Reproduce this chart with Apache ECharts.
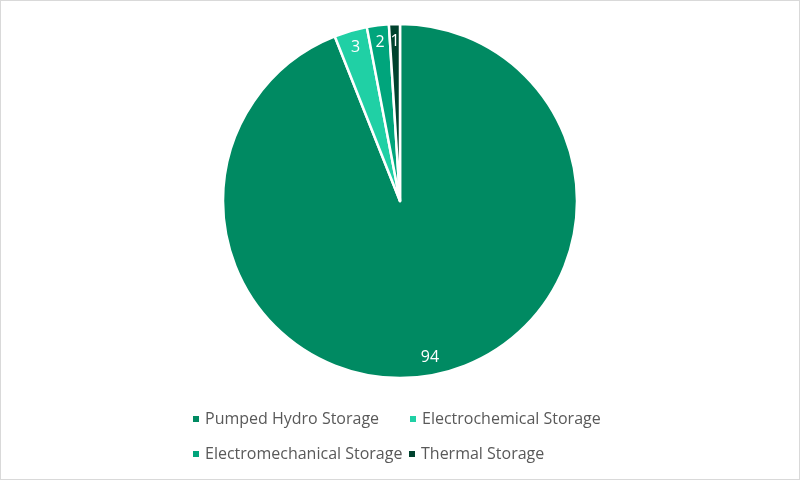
<!DOCTYPE html>
<html>
<head>
<meta charset="utf-8">
<script src="https://cdn.jsdelivr.net/npm/echarts@6/dist/echarts.min.js"></script>
<style>
html,body{margin:0;padding:0;background:#fff;}
#c{width:798px;height:478px;border:1px solid #d9d9d9;}
</style>
</head>
<body>
<div id="c"></div>
<script>
var categories = ['Pumped Hydro Storage', 'Electrochemical Storage', 'Electromechanical Storage', 'Thermal Storage'];
var shares = [94, 3, 2, 1];
var colors = ['#008a62', '#20d0a5', '#00a57c', '#00422e'];

var data = categories.map(function (n, i) {
  return { name: n, value: shares[i], itemStyle: { color: colors[i] } };
});
var labelData = categories.map(function (n, i) {
  return { name: n, value: shares[i] };
});

var legendFont = { fontFamily: 'Open Sans', fontSize: 16, color: '#595959' };
var legendPos = [[190, 410], [407, 410], [190, 445], [406, 445]];
var legends = categories.map(function (n, i) {
  return {
    data: [n], left: legendPos[i][0], top: legendPos[i][1], padding: 0,
    icon: 'rect', itemWidth: 8, itemHeight: 8, itemGap: 0,
    textStyle: legendFont, selectedMode: false
  };
});

var chart = echarts.init(document.getElementById('c'));
chart.setOption({
  backgroundColor: '#fff',
  animation: false,
  legend: legends,
  series: [
    {
      type: 'pie', center: [399, 200], radius: [0, 177],
      startAngle: 90, clockwise: true,
      data: data,
      label: { show: false }, labelLine: { show: false },
      itemStyle: { borderColor: '#fff', borderWidth: 2.5 },
      emphasis: { disabled: true }
    },
    {
      type: 'pie', center: [399, 200], radius: [136, 177],
      startAngle: 90, clockwise: true, silent: true,
      data: labelData,
      itemStyle: { color: 'rgba(0,0,0,0)', borderWidth: 0 },
      label: { show: true, position: 'inside', formatter: '{c}', color: '#fff', fontFamily: 'Open Sans', fontSize: 16 },
      labelLine: { show: false },
      emphasis: { disabled: true }
    }
  ]
});
</script>
</body>
</html>
